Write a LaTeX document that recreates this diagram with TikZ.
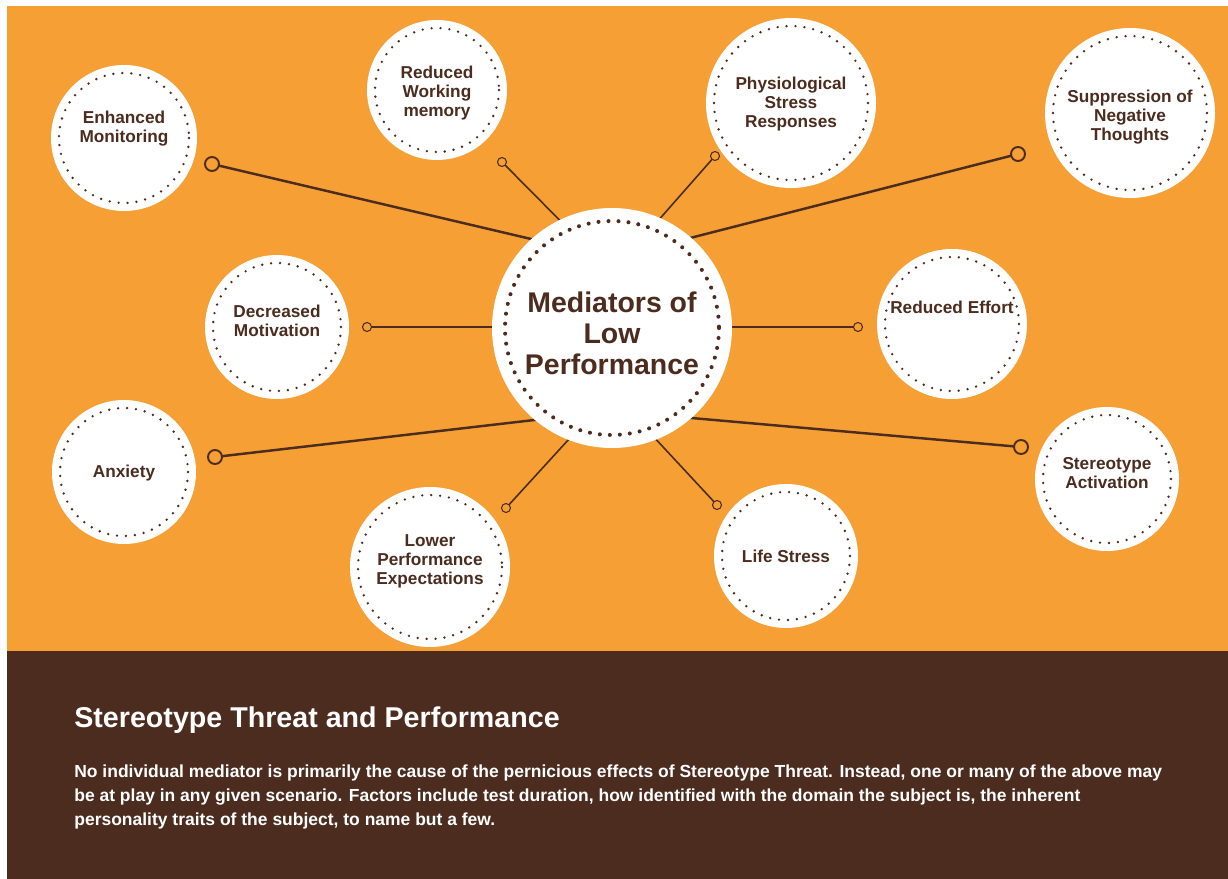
\documentclass[tikz,border=0pt]{standalone}
\usepackage{fontspec}
\setmainfont{Liberation Sans}
\definecolor{bgorange}{HTML}{F59F35}
\definecolor{darkbrown}{HTML}{4B2C1F}
\tikzset{
	bubble/.style={circle, fill=white, inner sep=0pt},
	dotring/.style={draw=darkbrown, line width=1.5pt, line cap=round, dash pattern=on 0pt off 5.1pt},
	hubring/.style={draw=darkbrown, line width=2.3pt, line cap=round, dash pattern=on 0pt off 5.7pt},
	bubtext/.style={align=center, inner sep=0pt, text=darkbrown, font=\fontsize{9.8}{10.8}\selectfont\bfseries},
	endbig/.style={circle, draw=darkbrown, fill=bgorange, line width=1.1pt, minimum size=0.28cm, inner sep=0pt},
	endsmall/.style={circle, draw=darkbrown, fill=bgorange, line width=0.6pt, minimum size=0.18cm, inner sep=0pt},
	thickline/.style={draw=darkbrown, line width=1.4pt},
	thinline/.style={draw=darkbrown, line width=0.9pt}
}
\begin{document}
\begin{tikzpicture}[x=0.02cm, y=-0.02cm, line cap=round, line join=round]
	\useasboundingbox (0,0) rectangle (1228,879);
	\fill[white] (0,0) rectangle (1228,879);
	\fill[bgorange] (7,6) rectangle (1228,651);
	\fill[darkbrown] (7,651) rectangle (1228,879);
	% mediators round the hub
	\foreach \nm/\cx/\cy/\r/\ty/\txt in {mon/124/138/73/129/{Enhanced\\Monitoring}, mem/437/90/70/93/{Reduced\\Working\\memory}, phy/791/103/85/104/{Physiological\\Stress\\Responses}, sup/1130/113/85/117/{Suppression of\\Negative\\Thoughts}, mot/277/327/72/321/{Decreased\\Motivation}, eff/952/324/75/307/{Reduced Effort}, anx/124/472/72/473/{Anxiety}, act/1107/479/72/473/{Stereotype\\Activation}, exp/430/567/80/561/{Lower\\Performance\\Expectations}, lif/786/556/72/556/{Life Stress}}{
		\node[bubble, minimum size=2*\r*0.02cm] (\nm) at (\cx,\cy) {};
		\draw[dotring] (\nm.center) circle[radius=\r-8];
		\node[bubtext] (\nm l) at (\cx,\ty) {\txt};
	}
	% connector ends
	\foreach \nm/\x/\y in {mon/212/164, sup/1018/154, anx/215/457, act/1021/447}\node[endbig] (\nm E) at (\x,\y) {};
	\foreach \nm/\x/\y in {mem/502/162, phy/715/156, mot/367/327, eff/858/327, exp/506/508, lif/717/505}\node[endsmall] (\nm E) at (\x,\y) {};
	\coordinate (hubN) at (612,258); \coordinate (hubNi) at (612,273);
	\coordinate (hubS) at (612,411); \coordinate (hubSi) at (612,392);
	\coordinate (hubC) at (612,327);
	\foreach \a/\b in {hubN/monE, hubN/supE, hubS/anxE, hubS/actE}\draw[thickline] (\a) -- (\b);
	\foreach \a/\b in {hubNi/memE, hubNi/phyE, hubC/motE, hubC/effE, hubSi/expE, hubSi/lifE}\draw[thinline] (\a) -- (\b);
	% hub
	\node[bubble, minimum size=240*0.02cm] (hub) at (612,328) {};
	\draw[hubring] (hub.center) circle[radius=107];
	\node[bubtext, font=\fontsize{16.2}{17.6}\selectfont\bfseries] (hubl) at (612,333) {Mediators of\\Low\\Performance};
	% footer
	\node[anchor=base west, inner sep=0pt, text=white, font=\fontsize{16.3}{19}\selectfont\bfseries] (title) at (74,727) {Stereotype Threat and Performance};
	\node[anchor=base west, align=left, inner sep=0pt, text=white, font=\fontsize{9.95}{13.6}\selectfont\bfseries] (body) at (74,825) {No individual mediator is primarily the cause of the pernicious effects of Stereotype Threat. Instead, one or many of the above may\\be at play in any given scenario. Factors include test duration, how identified with the domain the subject is, the inherent\\personality traits of the subject, to name but a few.};
\end{tikzpicture}
\end{document}
